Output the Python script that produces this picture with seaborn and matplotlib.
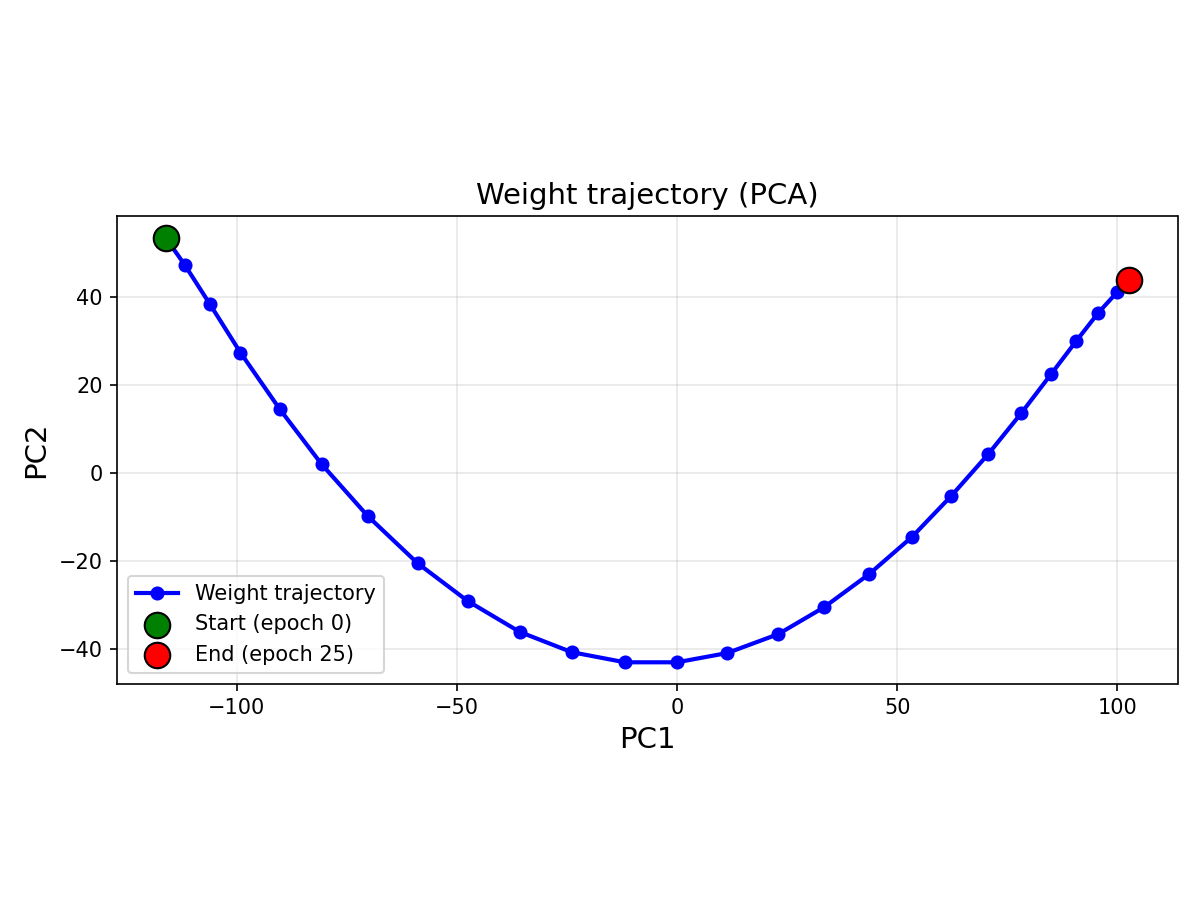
import matplotlib
matplotlib.use("Agg")
import matplotlib.pyplot as plt
import seaborn as sns
import pandas as pd

pc1 = [-116.1, -111.8, -106.1, -99.1, -90.2, -80.7, -70.2, -58.9, -47.5, -35.7,
       -23.9, -11.8, 0.0, 11.4, 23.0, 33.4, 43.6, 53.4, 62.3, 70.7,
       78.2, 85.0, 90.7, 95.7, 100.0, 102.7]
pc2 = [53.4, 47.3, 38.4, 27.3, 14.5, 2.0, -9.8, -20.5, -29.1, -36.1,
       -40.7, -43.0, -43.0, -40.9, -36.6, -30.5, -23.0, -14.5, -5.2, 4.3,
       13.6, 22.5, 30.0, 36.4, 41.1, 43.9]
epochs = list(range(len(pc1)))

df = pd.DataFrame({"PC1": pc1, "PC2": pc2, "epoch": epochs})

fig, ax = plt.subplots(figsize=(8, 6), dpi=150)
sns.lineplot(data=df, x="PC1", y="PC2", sort=False, color="blue", linewidth=2,
             marker="o", markersize=6, markeredgecolor="blue",
             label="Weight trajectory", ax=ax)
sns.scatterplot(x=[pc1[0]], y=[pc2[0]], color="green", s=150, edgecolor="black",
                linewidth=1, zorder=5, label="Start (epoch 0)", ax=ax)
sns.scatterplot(x=[pc1[-1]], y=[pc2[-1]], color="red", s=150, edgecolor="black",
                linewidth=1, zorder=5, label="End (epoch 25)", ax=ax)

ax.set_title("Weight trajectory (PCA)", fontsize=14)
ax.set_xlabel("PC1", fontsize=14)
ax.set_ylabel("PC2", fontsize=14)
ax.grid(True, alpha=0.3)
ax.set_aspect("equal")
ax.legend(loc="lower left")
fig.tight_layout()
fig.savefig("out.png", dpi=150)
